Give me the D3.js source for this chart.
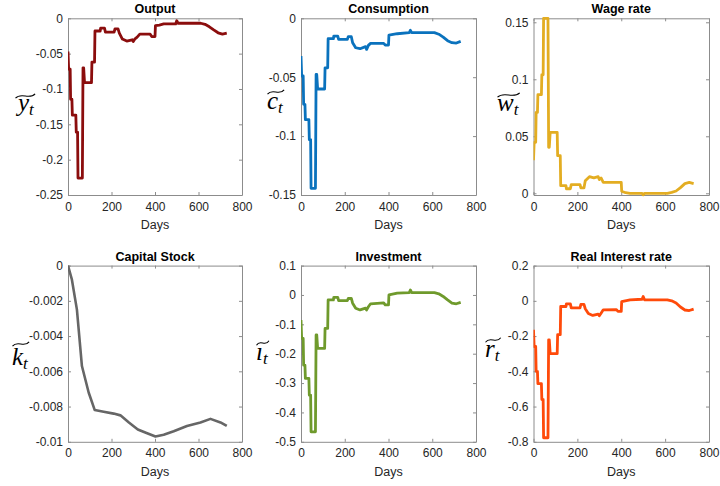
<!DOCTYPE html>
<html>
<head>
<meta charset="utf-8">
<script src="https://cdn.jsdelivr.net/npm/d3@7"></script>
<style>
  body { margin: 0; background: #fff; }
  svg { display: block; }
</style>
</head>
<body>
<script>
'use strict';
// ---- data: [day, deviation] ----
const outputData = [[0,-0.047],[3,-0.072],[10,-0.072],[12,-0.1145],[18,-0.1145],[20,-0.137],[36,-0.137],[38,-0.161],[44,-0.161],[46,-0.226],[66,-0.226],[69,-0.070],[72,-0.070],[76,-0.091],[108,-0.091],[110,-0.062],[122,-0.062],[124,-0.018],[148,-0.018],[150,-0.014],[168,-0.014],[172,-0.0196],[212,-0.0196],[216,-0.015],[230,-0.015],[236,-0.021],[250,-0.0294],[270,-0.0322],[295,-0.0304],[300,-0.033],[308,-0.029],[318,-0.0266],[330,-0.0224],[378,-0.0224],[385,-0.0258],[400,-0.0258],[402,-0.0104],[420,-0.0095],[440,-0.008],[495,-0.008],[500,-0.0034],[506,-0.007],[610,-0.007],[630,-0.0085],[650,-0.012],[670,-0.0164],[690,-0.0205],[710,-0.0224],[730,-0.021]];
const consumptionData = [[0,-0.032],[3,-0.049],[10,-0.049],[12,-0.073],[18,-0.073],[20,-0.086],[36,-0.086],[38,-0.103],[44,-0.103],[46,-0.1443],[66,-0.1443],[69,-0.0477],[72,-0.0477],[76,-0.060],[108,-0.060],[110,-0.042],[122,-0.042],[124,-0.0173],[148,-0.0173],[150,-0.0151],[168,-0.0151],[172,-0.0179],[212,-0.0179],[216,-0.0156],[230,-0.0156],[236,-0.0207],[250,-0.025],[270,-0.0258],[295,-0.024],[300,-0.0264],[308,-0.023],[318,-0.0213],[378,-0.0213],[385,-0.0227],[400,-0.0227],[402,-0.0142],[440,-0.0131],[495,-0.0122],[500,-0.0102],[506,-0.0122],[610,-0.0122],[630,-0.0135],[650,-0.016],[670,-0.019],[690,-0.0207],[710,-0.021],[730,-0.0196]];
const wageData = [[0,0.029],[3,0.0447],[10,0.0447],[12,0.071],[18,0.071],[20,0.0865],[36,0.0865],[38,0.104],[44,0.104],[46,0.1535],[66,0.1535],[69,0.0404],[72,0.0404],[76,0.0535],[108,0.0535],[110,0.033],[122,0.033],[124,0.0067],[148,0.0067],[150,0.004],[168,0.004],[172,0.0076],[212,0.0076],[216,0.0047],[230,0.0047],[236,0.011],[255,0.0146],[275,0.0135],[295,0.0146],[300,0.012],[308,0.0135],[318,0.0096],[378,0.0096],[400,0.0096],[402,0.0018],[420,0.0005],[440,0],[495,0],[500,-0.0015],[506,0],[610,0],[630,0.0008],[650,0.002],[670,0.005],[690,0.0085],[710,0.0095],[730,0.0085]];
const capitalData = [[0,0],[18,-0.0008],[41,-0.0025],[64,-0.0057],[95,-0.0072],[123,-0.0082],[164,-0.0083],[210,-0.0084],[241,-0.0085],[280,-0.0089],[321,-0.0093],[361,-0.0095],[402,-0.0097],[440,-0.0096],[486,-0.0094],[547,-0.0091],[609,-0.0089],[655,-0.0087],[701,-0.0089],[730,-0.0091]];
const investmentData = [[0,-0.085],[3,-0.148],[10,-0.148],[12,-0.239],[18,-0.239],[20,-0.284],[36,-0.284],[38,-0.341],[44,-0.341],[46,-0.466],[66,-0.466],[69,-0.136],[72,-0.136],[76,-0.182],[108,-0.182],[110,-0.114],[122,-0.114],[124,-0.017],[148,-0.017],[150,-0.008],[168,-0.008],[172,-0.019],[212,-0.019],[216,-0.012],[230,-0.012],[236,-0.028],[250,-0.045],[270,-0.051],[295,-0.045],[300,-0.051],[308,-0.040],[318,-0.030],[378,-0.027],[385,-0.034],[400,-0.034],[402,0],[440,0.006],[495,0.008],[500,0.017],[506,0.008],[610,0.008],[630,0.004],[650,-0.005],[670,-0.017],[690,-0.028],[710,-0.030],[730,-0.025]];
const interestData = [[0,-0.164],[3,-0.259],[10,-0.259],[12,-0.40],[18,-0.40],[20,-0.47],[36,-0.47],[38,-0.56],[44,-0.56],[46,-0.777],[66,-0.777],[69,-0.221],[72,-0.221],[76,-0.30],[108,-0.30],[110,-0.192],[122,-0.192],[124,-0.032],[148,-0.032],[150,-0.017],[168,-0.017],[172,-0.04],[212,-0.04],[216,-0.02],[230,-0.02],[236,-0.045],[250,-0.072],[270,-0.083],[295,-0.075],[300,-0.085],[308,-0.07],[318,-0.051],[378,-0.05],[385,-0.06],[400,-0.06],[402,-0.004],[440,0.006],[495,0.009],[500,0.025],[506,0.006],[610,0.006],[630,0],[650,-0.012],[670,-0.035],[690,-0.052],[710,-0.055],[730,-0.047]];

// ---- tick labels ----
const xTicks = [0, 200, 400, 600, 800];
const outputTicks = [-0.25, -0.2, -0.15, -0.1, -0.05, 0];
const consumptionTicks = [-0.15, -0.1, -0.05, 0];
const wageTicks = [0, 0.05, 0.1, 0.15];
const capitalTicks = [-0.01, -0.008, -0.006, -0.004, -0.002, 0];
const investmentTicks = [-0.5, -0.4, -0.3, -0.2, -0.1, 0, 0.1];
const interestTicks = [-0.8, -0.6, -0.4, -0.2, 0, 0.2];

const width = 720, height = 486;
const svg = d3.select('body').append('svg').attr('width', width).attr('height', height);

// panel boxes
const cols = [[68, 242], [301, 476], [533.5, 709]];
const rows = [[18.3, 195], [265.6, 441.8]];

const panels = [
  {title: 'Output', data: outputData, color: '#8b0d0d', dom: [-0.25, 0], ticks: outputTicks, sym: 'y', col: 0, row: 0, lx: 18, ly: 111, tilde: 15},
  {title: 'Consumption', data: consumptionData, color: '#0a72bd', dom: [-0.15, 0], ticks: consumptionTicks, sym: 'c', col: 1, row: 0, lx: 267, ly: 109, tilde: 17},
  {title: 'Wage rate', data: wageData, color: '#e3ad22', dom: [-0.0015, 0.1535], ticks: wageTicks, sym: 'w', col: 2, row: 0, lx: 497, ly: 111, tilde: 16},
  {title: 'Capital Stock', data: capitalData, color: '#666666', dom: [-0.01, 0], ticks: capitalTicks, sym: 'k', col: 0, row: 1, lx: 12, ly: 365, tilde: 21, thin: true},
  {title: 'Investment', data: investmentData, color: '#6f9a2c', dom: [-0.5, 0.1], ticks: investmentTicks, sym: '\u0131', col: 1, row: 1, lx: 256, ly: 360, tilde: 17},
  {title: 'Real Interest rate', data: interestData, color: '#ff4a0a', dom: [-0.8, 0.2], ticks: interestTicks, sym: 'r', col: 2, row: 1, lx: 485, ly: 357, tilde: 17}
];

const axisColor = '#8c8c8c';
const textColor = '#262626';

panels.forEach((p, i) => {
  const [x0, x1] = cols[p.col];
  const [y0, y1] = rows[p.row];
  const x = d3.scaleLinear().domain([0, 800]).range([x0, x1]);
  const y = d3.scaleLinear().domain(p.dom).range([y1, y0]);

  const g = svg.append('g');

  svg.append('clipPath').attr('id', 'clip' + i)
    .append('rect').attr('x', x0).attr('y', y0 - 1.5).attr('width', x1 - x0).attr('height', y1 - y0 + 3);

  // axes
  const yAxis = g.append('g').attr('transform', `translate(${x0},0)`)
    .call(d3.axisLeft(y).tickValues(p.ticks).tickSizeInner(-3).tickSizeOuter(0).tickPadding(5).tickFormat(v => String(v)));
  const xAxis = g.append('g').attr('transform', `translate(0,${y1})`)
    .call(d3.axisBottom(x).tickValues(xTicks).tickSizeInner(-3).tickSizeOuter(0).tickPadding(7).tickFormat(v => String(v)));
  const yAxisR = g.append('g').attr('transform', `translate(${x1},0)`)
    .call(d3.axisRight(y).tickValues(p.ticks).tickSizeInner(-3).tickSizeOuter(0).tickFormat(''));
  const xAxisT = g.append('g').attr('transform', `translate(0,${y0})`)
    .call(d3.axisTop(x).tickValues(xTicks).tickSizeInner(-3).tickSizeOuter(0).tickFormat(''));

  [yAxis, xAxis, yAxisR, xAxisT].forEach(a => {
    a.select('.domain').attr('stroke', axisColor).attr('stroke-width', 1);
    a.selectAll('.tick line').attr('stroke', axisColor).attr('stroke-width', 1);
    a.selectAll('.tick text').attr('fill', textColor)
      .style('font-family', '"Liberation Sans", Arial, sans-serif').style('font-size', '12px');
  });

  // line
  const line = d3.line().x(d => x(d[0])).y(d => y(d[1]));
  g.append('path').datum(p.data)
    .attr('clip-path', `url(#clip${i})`)
    .attr('d', line)
    .attr('fill', 'none')
    .attr('stroke', p.color)
    .attr('stroke-width', p.thin ? 2.6 : 2.8)
    .attr('stroke-linejoin', 'round');

  // title
  g.append('text')
    .attr('x', (x0 + x1) / 2).attr('y', y0 - 5)
    .attr('text-anchor', 'middle')
    .style('font-family', '"Liberation Sans", Arial, sans-serif')
    .style('font-size', '12.5px').style('font-weight', 'bold')
    .attr('fill', '#000')
    .text(p.title);

  // x label
  g.append('text')
    .attr('x', (x0 + x1) / 2).attr('y', y1 + 34)
    .attr('text-anchor', 'middle')
    .style('font-family', '"Liberation Sans", Arial, sans-serif')
    .style('font-size', '12.5px')
    .attr('fill', textColor)
    .text('Days');

  // y label: widetilde{sym}_t
  const lab = g.append('text')
    .attr('x', p.lx).attr('y', p.ly)
    .style('font-family', '"Liberation Serif", "Times New Roman", serif')
    .style('font-style', 'italic')
    .attr('fill', '#000');
  lab.append('tspan').style('font-size', '25px').text(p.sym);
  lab.append('tspan').style('font-size', '17px').attr('dy', 4).text('t');
  const bb = lab.node().getBBox();
  const tx0 = bb.x + 0.5, tx1 = bb.x + bb.width, ty = p.ly - p.tilde, a = 2.2;
  const w = tx1 - tx0;
  g.append('path')
    .attr('d', `M${tx0},${ty + a} C${tx0 + w * 0.3},${ty - 2 * a} ${tx0 + w * 0.7},${ty + 2 * a} ${tx1},${ty - a}`)
    .attr('fill', 'none').attr('stroke', '#000').attr('stroke-width', 1.1);
});
</script>
</body>
</html>
